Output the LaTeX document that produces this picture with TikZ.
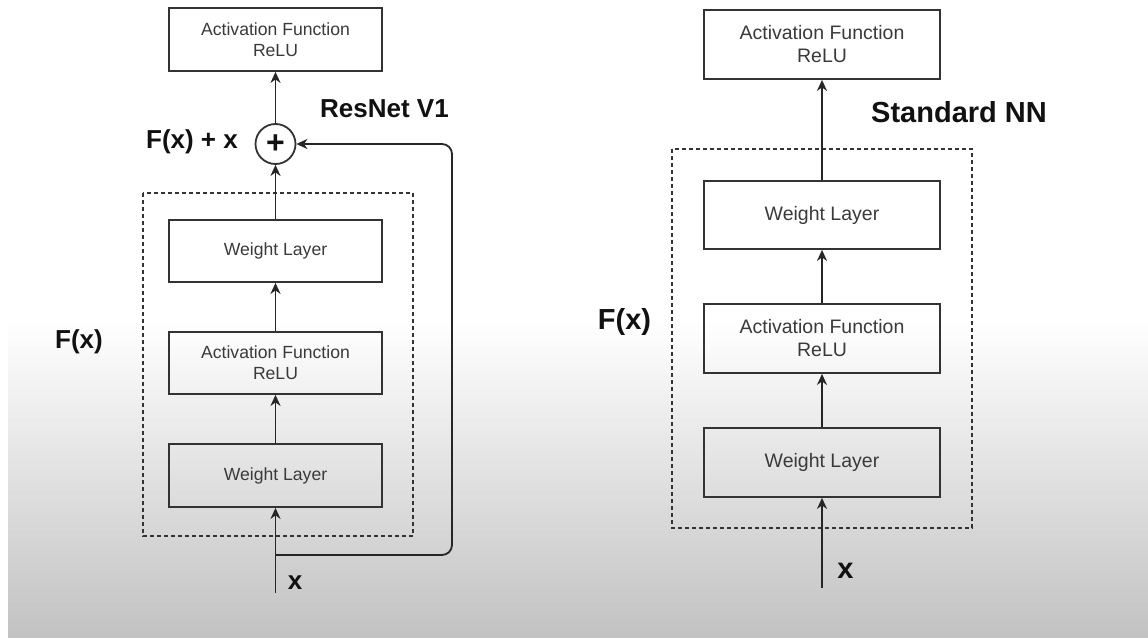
\documentclass[tikz,border=0pt]{standalone}
\usepackage{fontspec}
\setmainfont{Liberation Sans}
\usetikzlibrary{arrows.meta}
\definecolor{boxline}{HTML}{333333}
\definecolor{boxtext}{HTML}{3A3A3A}
\definecolor{labeltext}{HTML}{111111}
\definecolor{bgbot}{HTML}{C2C2C2}
\tikzset{
  layerL/.style={draw=boxline, line width=1.8pt, rectangle, minimum width=213pt, inner sep=0pt, align=center, text=boxtext, font=\fontsize{17.6}{21}\selectfont},
  layerR/.style={draw=boxline, line width=1.8pt, rectangle, minimum width=236pt, inner sep=0pt, align=center, text=boxtext, font=\fontsize{19.5}{23}\selectfont},
  arr/.style={draw=black!85, line width=1.8pt, -{Stealth[length=11pt,width=10pt,inset=3.5pt]}},
  dashbox/.style={draw=boxline, line width=1.7pt, dash pattern=on 4pt off 3pt},
  lblL/.style={inner sep=0pt, anchor=base, text=labeltext, font=\fontsize{26}{30}\selectfont\bfseries},
  lblR/.style={inner sep=0pt, anchor=base, text=labeltext, font=\fontsize{29}{33}\selectfont\bfseries}
}
\begin{document}
\begin{tikzpicture}[x=1pt,y=-1pt]
\useasboundingbox (0,0) rectangle (1148,637);
% background
\fill[white] (0,0) rectangle (1148,637);
\shade[top color=white, bottom color=bgbot] (8,320) rectangle (1148,637);

% ---------- ResNet V1 ----------
\draw[dashbox] (143,193) rectangle (413,536);
\node[layerL, minimum height=63pt] (topL) at (275.5,39.5) {Activation Function\\ReLU};
\node[layerL, minimum height=62pt] (w2L) at (275.5,251) {Weight Layer};
\node[layerL, minimum height=62pt] (aL) at (275.5,363) {Activation Function\\ReLU};
\node[layerL, minimum height=63pt] (w1L) at (275.5,475.5) {Weight Layer};
\node[draw=boxline, line width=1.8pt, circle, minimum size=40pt, inner sep=0pt,
      font=\fontsize{32}{32}\selectfont\bfseries, text=labeltext] (plus) at (275.5,144) {+};
\coordinate (inL) at (275.5,593);
\coordinate (brL) at (275.5,555);

\draw[arr] (inL) -- (w1L);
\draw[arr] (w1L) -- (aL);
\draw[arr] (aL) -- (w2L);
\draw[arr] (w2L) -- (plus);
\draw[arr] (plus) -- (topL);
\draw[arr, rounded corners=10pt] (brL) -- (452,555) -- (452,144) -- (plus.east);

\node[lblL] (fxpx) at (192,148) {F(x) + x};
\node[lblL] (resnet) at (384.5,117) {ResNet V1};
\node[lblL] (fxL) at (79,348) {F(x)};
\node[lblL] (xL) at (295,589) {x};

% ---------- Standard NN ----------
\draw[dashbox] (672,149) rectangle (972,528);
\node[layerR, minimum height=69pt] (topR) at (822,44.5) {Activation Function\\ReLU};
\node[layerR, minimum height=68pt] (w2R) at (822,215) {Weight Layer};
\node[layerR, minimum height=69pt] (aR) at (822,338.5) {Activation Function\\ReLU};
\node[layerR, minimum height=69pt] (w1R) at (822,462.5) {Weight Layer};
\coordinate (inR) at (822,588);

\draw[arr] (inR) -- (w1R);
\draw[arr] (w1R) -- (aR);
\draw[arr] (aR) -- (w2R);
\draw[arr] (w2R) -- (topR);

\node[lblR] (std) at (959,122) {Standard NN};
\node[lblR] (fxR) at (624.5,329) {F(x)};
\node[lblR] (xR) at (845.5,578) {x};
\end{tikzpicture}
\end{document}
